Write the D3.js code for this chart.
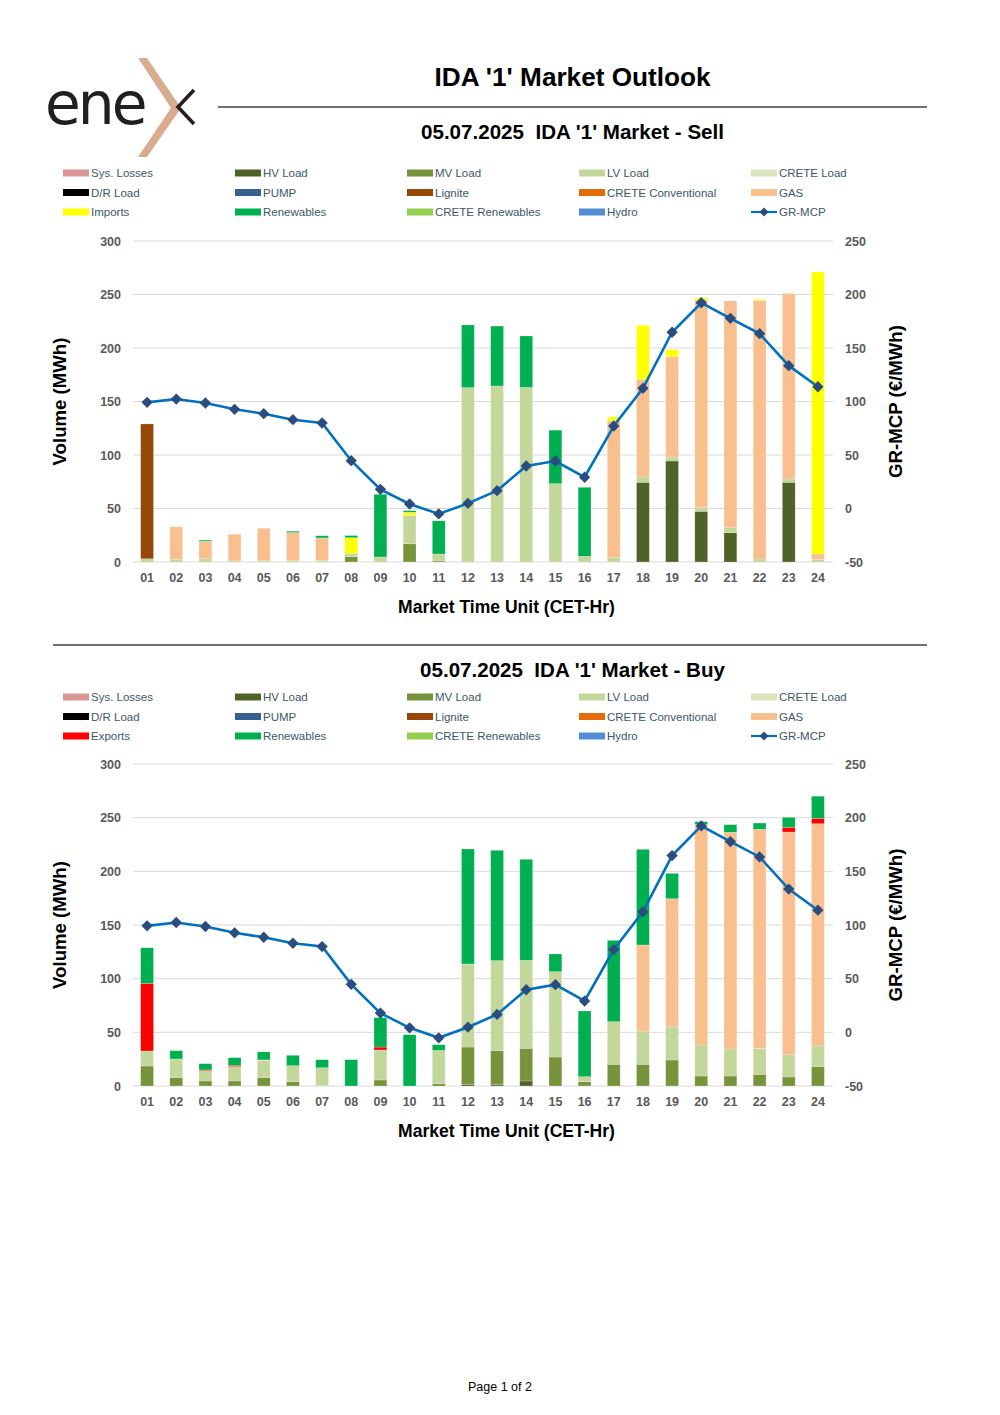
<!DOCTYPE html>
<html><head><meta charset="utf-8">
<script src="https://cdn.jsdelivr.net/npm/d3@7"></script>
<style>body{margin:0;background:#fff}svg{display:block}</style>
</head><body>
<svg id="c" width="1000" height="1415"></svg>
<script>
// ---------- DATA ----------
const hours = ["01","02","03","04","05","06","07","08","09","10","11","12","13","14","15","16","17","18","19","20","21","22","23","24"];
const mcp = [99.2,102.3,98.6,92.7,88.6,83,79.9,44.7,17.9,4.2,-5.1,4.8,16.7,39.7,44.4,29.2,77.1,112.3,164.7,192.3,177.7,163.4,133.5,113.8];

const sellHV      = [0,0,0,0,0,0,0,0,0,0,0,0,0,0,0,0,0,74.5,94.4,47.4,27.4,0,74.5,0];
const sellMV      = [0,0,0,0,0,0,0,5,0,17,1,0,0,0,0,0,0,0,0,0,0,0,0,0];
const sellLV      = [3,2.5,3,1,1.5,1.5,1.5,3,4.7,26.5,6.5,163,164.5,163.2,73.2,5.3,4,4.9,3.7,3.4,4.6,2.8,3.1,2.5];
const sellLignite = [126,0,0,0,0,0,0,0,0,0,0,0,0,0,0,0,0,0,0,0,0,0,0,0];
const sellGAS     = [0,30.5,16.5,25,30,26,21,0,0,0,0,0,0,0,0,0,128,91.3,93.8,194.3,212,241.7,173.4,5];
const sellImports = [0,0,0,0,0,0,0,14.7,0,3,0,0,0,0,0,0,3.5,50.5,6.5,1.9,0,1,0,263.5];
const sellRen     = [0,0,1,0,0,1.3,2,2,58.6,1.5,31,58.5,56,48,50,64.5,0,0,0,0,0,0,0,0];

const buyHV      = [0,0,0,0,0,0,0,0,0,0,0,1.5,1.5,4.7,0,0,0,0,0,0,0,0,0,0];
const buyMV      = [18.6,7.8,4.7,4.7,7.8,4,0.3,0,5.6,0,2.2,34.8,31.4,30.4,27,4,20.2,20.2,24.2,9.3,9.3,10.9,8.4,18];
const buyLV      = [14,17.4,9.5,13.4,16,14.9,16.7,0,27.9,0,31,77.4,83.9,82,79.5,4.7,39.7,31,30.8,28.9,25.2,24.2,20.8,19.3];
const buyGAS     = [0,0,0,0,0.5,0,0,0,0,0,0,0,0,0,0,0,0,80.2,119.5,205.6,201.9,204.1,207.4,207.1];
const buyExports = [63,0,0.8,1.2,0,0,0,0,2.8,0,0,0,0,0,0,0,0,0,0,0,0,0,4.4,5];
const buyRen     = [33.2,7.7,5.8,7.1,7.5,9.7,7.5,24.5,27.4,47.8,5.3,107.1,102.8,94.1,16.5,61.2,75.8,89.1,23.6,2.5,7.1,5.8,9.3,20.6];

const leftTicks = [0,50,100,150,200,250,300];
const rightTicks = [-50,0,50,100,150,200,250];

const colors = {
  "Sys. Losses":"#DA9694","HV Load":"#4F6228","MV Load":"#77933C","LV Load":"#C4D79B","CRETE Load":"#D8E4BC",
  "D/R Load":"#000000","PUMP":"#366092","Lignite":"#974706","CRETE Conventional":"#E26B0A","GAS":"#FABF8F",
  "Imports":"#FFFF00","Exports":"#FF0000","Renewables":"#00B050","CRETE Renewables":"#92D050","Hydro":"#538DD5"
};
const zeros = hours.map(()=>0);

const sellSeries = {
  "Sys. Losses":zeros,"HV Load":sellHV,"MV Load":sellMV,"LV Load":sellLV,"CRETE Load":zeros,
  "D/R Load":zeros,"PUMP":zeros,"Lignite":sellLignite,"CRETE Conventional":zeros,"GAS":sellGAS,
  "Imports":sellImports,"Renewables":sellRen,"CRETE Renewables":zeros,"Hydro":zeros
};
const buySeries = {
  "Sys. Losses":zeros,"HV Load":buyHV,"MV Load":buyMV,"LV Load":buyLV,"CRETE Load":zeros,
  "D/R Load":zeros,"PUMP":zeros,"Lignite":zeros,"CRETE Conventional":zeros,"GAS":buyGAS,
  "Exports":buyExports,"Renewables":buyRen,"CRETE Renewables":zeros,"Hydro":zeros
};

// ---------- DRAW ----------
const svg = d3.select("#c");
const FONT = "'Liberation Sans', Arial, sans-serif";

function fit(sel, target){
  const n = sel.node();
  const fs = parseFloat(sel.attr("font-size"));
  const w = n.getComputedTextLength();
  sel.attr("font-size", (fs*target/w).toFixed(2));
}

// Logo
const logo = svg.append("g");
logo.append("text").attr("x",45).attr("y",124).attr("font-family","'DejaVu Sans', sans-serif")
  .attr("font-weight","normal").attr("font-size",62).attr("fill","#231F20").attr("letter-spacing",-3).text("ene")
  .call(s=>fit(s,100));
logo.append("path")
  .attr("d","M138,58 L147,58 L181,108 L147,157 L138,157 L171,108 Z")
  .attr("fill","#D9AB8F");
logo.append("path")
  .attr("d","M194,90 L178,107 L194,124")
  .attr("fill","none").attr("stroke","#231F20").attr("stroke-width",3.6);

// Title
svg.append("text").attr("x",572.5).attr("y",86).attr("text-anchor","middle")
  .attr("font-family",FONT).attr("font-weight","bold").attr("font-size",24).attr("fill","#000")
  .text("IDA '1' Market Outlook").call(s=>fit(s,276));
svg.append("line").attr("x1",218).attr("x2",927).attr("y1",107).attr("y2",107).attr("stroke","#404040").attr("stroke-width",1.3);
svg.append("line").attr("x1",53).attr("x2",927).attr("y1",645).attr("y2",645).attr("stroke","#404040").attr("stroke-width",1.3);

// footer
svg.append("text").attr("x",500).attr("y",1391).attr("text-anchor","middle").attr("font-family",FONT)
  .attr("font-size",12.5).attr("fill","#000").text("Page 1 of 2");

const x = d3.scaleBand().domain(hours).range([132.5,832.5]).paddingInner(0.56).paddingOuter(0.28);

function drawChart(cfg){
  const g = svg.append("g");
  const y = d3.scaleLinear().domain([0,300]).range([cfg.y0, cfg.y300]);
  const yr = d3.scaleLinear().domain([-50,250]).range([cfg.y0, cfg.y300]);

  // subtitle
  g.append("text").attr("x",572.5).attr("y",cfg.subY).attr("text-anchor","middle")
    .attr("font-family",FONT).attr("font-weight","bold").attr("font-size",20).attr("fill","#000")
    .style("white-space","pre").attr("xml:space","preserve")
    .text(cfg.subtitle).call(s=>fit(s,cfg.subW));

  // legend
  const names = Object.keys(cfg.series).concat(["GR-MCP"]);
  const colX = [63,235,407,579,751];
  names.forEach((nm,i)=>{
    const cx = colX[i%5], cy = cfg.legY + Math.floor(i/5)*19.5;
    if(nm==="GR-MCP"){
      g.append("line").attr("x1",cx).attr("x2",cx+26).attr("y1",cy).attr("y2",cy).attr("stroke","#0070C0").attr("stroke-width",2.2);
      g.append("path").attr("d",d3.symbol(d3.symbolSquare,40)())
        .attr("transform",`translate(${cx+13},${cy}) rotate(45)`).attr("fill","#2B4C7E");
    } else {
      g.append("rect").attr("x",cx).attr("y",cy-3.5).attr("width",26).attr("height",7).attr("fill",colors[nm]);
    }
    g.append("text").attr("x",cx+28).attr("y",cy+4).attr("font-family",FONT).attr("font-size",11.5)
      .attr("fill","#3D5766").text(nm);
  });

  // grid
  g.append("g").selectAll("line").data(leftTicks).join("line")
    .attr("x1",133).attr("x2",833).attr("y1",d=>y(d)).attr("y2",d=>y(d))
    .attr("stroke","#D9D9D9").attr("stroke-width",1);

  // axes labels
  const fmt = d=>String(d);
  const la = g.append("g").attr("transform","translate(125,0)")
    .call(d3.axisLeft(y).tickValues(leftTicks).tickFormat(fmt).tickSize(0).tickPadding(4));
  const ra = g.append("g").attr("transform","translate(841,0)")
    .call(d3.axisRight(yr).tickValues(rightTicks).tickFormat(fmt).tickSize(0).tickPadding(4));
  const xa = g.append("g").attr("transform",`translate(0,${cfg.y0})`)
    .call(d3.axisBottom(x).tickSize(0).tickPadding(11));
  [la,ra,xa].forEach(a=>{
    a.select(".domain").remove();
    a.selectAll("text").attr("font-family",FONT).attr("font-weight","bold").attr("font-size",12.5).attr("fill","#595959");
  });

  // bars
  const keys = Object.keys(cfg.series);
  const table = hours.map((h,i)=>{const o={hour:h}; keys.forEach(k=>o[k]=cfg.series[k][i]); return o;});
  const stacked = d3.stack().keys(keys)(table);
  g.append("g").selectAll("g").data(stacked).join("g").attr("fill",d=>colors[d.key])
    .selectAll("rect").data(d=>d.filter(p=>p[1]-p[0]>0)).join("rect")
    .attr("x",d=>x(d.data.hour)).attr("width",x.bandwidth())
    .attr("y",d=>y(d[1])).attr("height",d=>y(d[0])-y(d[1]))
    .attr("stroke","#ffffff").attr("stroke-opacity",0.35).attr("stroke-width",0.6);

  // line
  const line = d3.line().x((d,i)=>x(hours[i])+x.bandwidth()/2).y(d=>yr(d));
  g.append("path").datum(mcp).attr("d",line).attr("fill","none").attr("stroke","#0070C0").attr("stroke-width",2.6);
  g.append("g").selectAll("path").data(mcp).join("path")
    .attr("d",d3.symbol(d3.symbolSquare,64)())
    .attr("transform",(d,i)=>`translate(${x(hours[i])+x.bandwidth()/2},${yr(d)}) rotate(45)`)
    .attr("fill","#2B4C7E");

  // axis titles
  g.append("text").attr("x",506.5).attr("y",cfg.y0+51).attr("text-anchor","middle")
    .attr("font-family",FONT).attr("font-weight","bold").attr("font-size",17).attr("fill","#000")
    .text("Market Time Unit (CET-Hr)").call(s=>fit(s,217));
  const mid = (cfg.y0+cfg.y300)/2;
  g.append("text").attr("transform",`translate(66,${mid}) rotate(-90)`).attr("text-anchor","middle")
    .attr("font-family",FONT).attr("font-weight","bold").attr("font-size",17).attr("fill","#000")
    .text("Volume (MWh)").call(s=>fit(s,128));
  g.append("text").attr("transform",`translate(902,${mid}) rotate(-90)`).attr("text-anchor","middle")
    .attr("font-family",FONT).attr("font-weight","bold").attr("font-size",17).attr("fill","#000")
    .text("GR-MCP (€/MWh)").call(s=>fit(s,153));
}

drawChart({y0:562, y300:241, subY:139, subW:303, legY:173,
  subtitle:"05.07.2025  IDA '1' Market - Sell", series:sellSeries});
drawChart({y0:1086, y300:764, subY:677, subW:305, legY:697,
  subtitle:"05.07.2025  IDA '1' Market - Buy", series:buySeries});
</script>
</body></html>
